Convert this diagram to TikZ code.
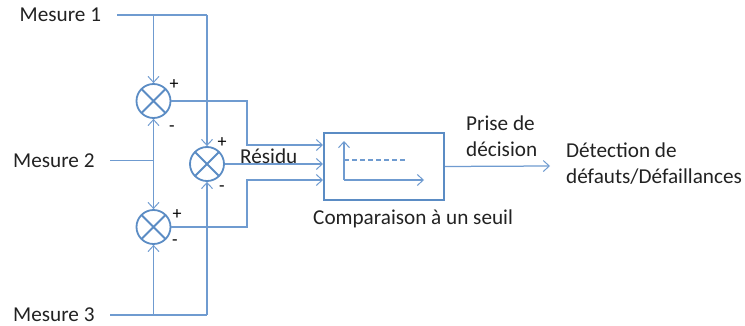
\documentclass[tikz,border=0pt]{standalone}
\usepackage{fontspec}
\setmainfont{Carlito}
\usetikzlibrary{arrows.meta,calc}
\definecolor{blu}{HTML}{5B8CC4}
\definecolor{blul}{HTML}{6F9BD0}
\definecolor{txt}{HTML}{222222}
\tikzset{
  x=1pt,y=-1pt,
  lbl/.style={font=\fontsize{21.2}{26}\selectfont,text=txt,inner sep=0pt,align=left},
  sgn/.style={font=\fontsize{18}{18}\selectfont,text=black,inner sep=0pt},
  sumj/.style={circle,draw=blu,line width=1.8pt,minimum size=34pt,inner sep=0pt,
    path picture={\draw[blu,line width=1.8pt]
      (path picture bounding box.north west)--(path picture bounding box.south east)
      (path picture bounding box.north east)--(path picture bounding box.south west);}},
  blockbox/.style={rectangle,draw=blu,line width=1.9pt,fill=white,minimum width=120.5pt,minimum height=67pt,inner sep=0pt},
  wire/.style={draw=blul,line width=1.25pt},
  arr/.style={wire,-{Straight Barb[length=6pt,width=11pt,line width=1pt]}},
}
\begin{document}
\begin{tikzpicture}
\useasboundingbox (0,0) rectangle (745,326);
\node[sumj] (s1) at (153.5,101) {};
\node[sumj] (s2) at (207,164) {};
\node[sumj] (s3) at (153.5,227) {};
\node[blockbox] (box) at (383.8,166.5) {};
\node[lbl,anchor=west] (m1) at (19.5,15) {Mesure 1};
\node[lbl,anchor=west] (m2) at (13,161) {Mesure 2};
\node[lbl,anchor=west] (m3) at (13,315) {Mesure 3};
\coordinate (m1s) at (117,15);
\coordinate (m2s) at (110,160.5);
\coordinate (m3s) at (110,315);
\coordinate (j1) at (153.5,15);
\coordinate (j1b) at (207,15);
\coordinate (j2) at (153.5,160.5);
\coordinate (j3) at (153.5,315);
\coordinate (j3b) at (207,315);
\path[wire] (m1s) -- (j1b);
\path[wire] (m2s) -- (j2);
\path[wire] (m3s) -- (j3b);
\path[arr] (j1) -- (s1.north);
\path[arr] (j1b) -- (s2.north);
\path[arr] (j2) -- (s1.south);
\path[arr] (j2) -- (s3.north);
\path[arr] (j3) -- (s3.south);
\path[arr] (j3b) -- (s2.south);
\coordinate (t1) at (323,145);
\coordinate (t2) at (323,164);
\coordinate (t3) at (323,180);
\path[arr] (s1.east) -| (247,145) -- (t1);
\path[arr] (s2.east) -- (t2);
\path[arr] (s3.east) -| (247,180) -- (t3);
\coordinate (ax0) at (344,180);
\coordinate (axy) at (344,141);
\coordinate (axx) at (424,180);
\coordinate (th0) at (344,160);
\coordinate (th1) at (405,160);
\path[arr] (ax0) -- (axy);
\path[arr] (ax0) -- (axx);
\path[wire,dashed,dash pattern=on 5pt off 3pt] (th0) -- (th1);
\coordinate (out) at (550,166);
\path[arr] (box.east) -- (out);
\node[lbl,anchor=west] (res) at (240,156) {Résidu};
\node[lbl,anchor=north west] (pd) at (466,116) {Prise de\\décision};
\node[lbl,anchor=north west] (det) at (566,143) {Détection de\\défauts/Défaillances};
\node[lbl,anchor=west] (cmp) at (313,219) {Comparaison à un seuil};
\node[sgn] (p1) at (174,85) {+};
\node[sgn] (n1) at (172,129) {-};
\node[sgn] (p2) at (222,143) {+};
\node[sgn] (n2) at (222,189) {-};
\node[sgn] (p3) at (177,215) {+};
\node[sgn] (n3) at (175,243) {-};
\end{tikzpicture}
\end{document}
